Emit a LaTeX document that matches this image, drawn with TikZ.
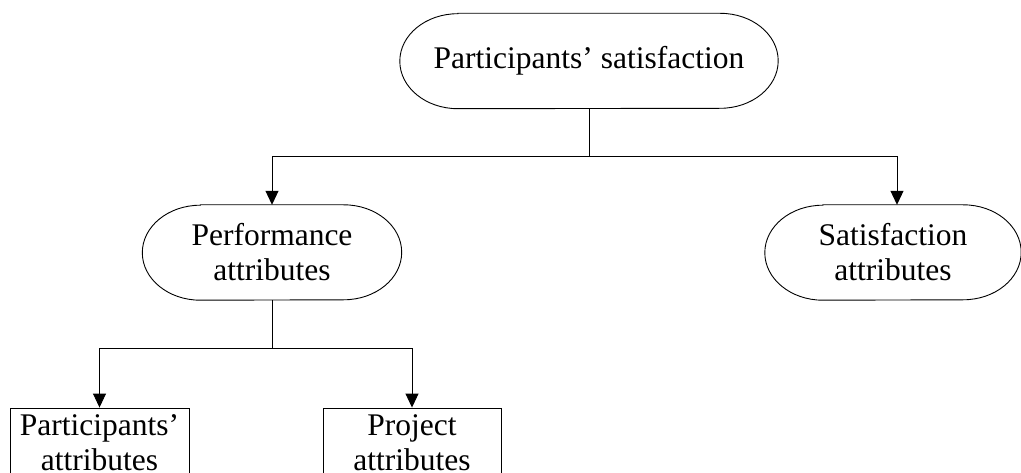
\documentclass[tikz,border=0pt]{standalone}
\usepackage{fontspec}
\setmainfont{Liberation Serif}
\usetikzlibrary{arrows.meta}
% outline of a pill-shaped node with half-elliptical ends
\newcommand\pillframe[1]{%
  \draw[link] ([xshift=58pt]#1.north west) -- ([xshift=-58pt]#1.north east)
    arc[start angle=90,end angle=-90,x radius=58pt,y radius=47.5pt]
    -- ([xshift=58pt]#1.south west)
    arc[start angle=270,end angle=90,x radius=58pt,y radius=47.5pt] -- cycle;}
\begin{document}
\begin{tikzpicture}[x=1pt,y=1pt,
  every node/.style={font=\fontsize{31.5}{35}\selectfont, align=center, inner sep=0pt},
  pill/.style={minimum height=95pt},
  plainbox/.style={draw, line width=0.9pt, minimum height=69pt},
  link/.style={line width=0.9pt},
  arrowlink/.style={link, -{Triangle[width=13pt,length=14pt]}}]
\useasboundingbox (0,0) rectangle (1021,472);
\clip (0,0) rectangle (1021,472);

% nodes
\node[pill, minimum width=378pt] (top) at (589,411) {Participants’ satisfaction};
\node[pill, minimum width=259pt] (perf) at (272,219.5) {Performance\\attributes};
\node[pill, minimum width=256pt] (sat) at (893,219.5) {Satisfaction\\attributes};
\node[plainbox, minimum width=179pt] (part) at (99.5,29.5) {Participants’\\attributes};
\node[plainbox, minimum width=178pt] (proj) at (412,29.5) {Project\\attributes};
\pillframe{top}
\pillframe{perf}
\pillframe{sat}

% first level connectors
\coordinate (j1) at ([yshift=-48pt]top.south);
\coordinate (satin) at ([xshift=4pt]sat.north);
\draw[link] (top.south) -- (j1);
\draw[arrowlink] (j1) -| (perf.north);
\draw[arrowlink] (j1) -| (satin);

% second level connectors
\coordinate (j2) at ([yshift=-48pt]perf.south);
\draw[link] (perf.south) -- (j2);
\draw[arrowlink] (j2) -| (part.north);
\draw[arrowlink] (j2) -| (proj.north);
\end{tikzpicture}
\end{document}
